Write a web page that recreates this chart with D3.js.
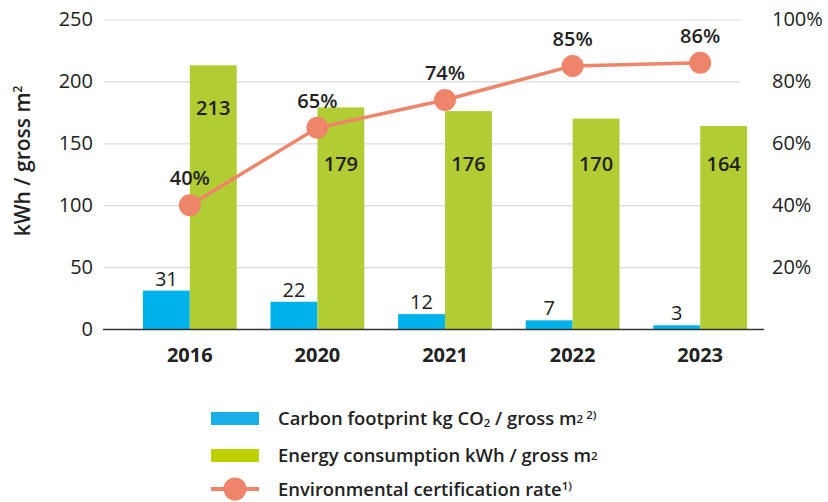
<!DOCTYPE html>
<html>
<head>
<meta charset="utf-8">
<script src="https://cdn.jsdelivr.net/npm/d3@7"></script>
<style>
  body { margin: 0; background: #fff; }
  svg { font-family: "Open Sans", "Noto Sans", sans-serif; }
</style>
</head>
<body>
<div id="chart"></div>
<script>
const years = ["2016", "2020", "2021", "2022", "2023"];
const carbon = [31, 22, 12, 7, 3];
const energy = [213, 179, 176, 170, 164];
const certRate = [40, 65, 74, 85, 86];
const leftTicks = [0, 50, 100, 150, 200, 250];
const rightTicks = [20, 40, 60, 80, 100];

const width = 828;
const height = 502;
const blue = "#00b2ea";
const green = "#b2cd33";
const salmon = "#ee856b";
const textColor = "#222";

const svg = d3.select("#chart")
    .append("svg")
    .attr("width", width)
    .attr("height", height);

const x0 = d3.scaleBand()
    .domain(years)
    .range([126, 764])
    .padding(0);

const x1 = d3.scaleBand()
    .domain(["carbon", "energy"])
    .range([0, x0.bandwidth()])
    .paddingInner(0)
    .paddingOuter(0.36);

const y = d3.scaleLinear()
    .domain([0, 250])
    .range([329, 19.5]);

const yPct = d3.scaleLinear()
    .domain([0, 100])
    .range([329, 19.5]);

// gridlines + left labels
svg.append("g")
    .attr("transform", "translate(104,0)")
    .call(d3.axisLeft(y).tickValues(leftTicks).tickSize(-636).tickPadding(11))
    .call(g => g.select(".domain").remove())
    .call(g => g.selectAll(".tick line").attr("stroke", "#d9d9d9").attr("stroke-width", 1.2))
    .call(g => g.selectAll(".tick text")
        .attr("fill", textColor)
        .attr("font-size", 20)
        .attr("font-family", "Open Sans"));

// right axis labels
svg.append("g")
    .attr("transform", "translate(772,0)")
    .call(d3.axisRight(yPct).tickValues(rightTicks).tickSize(0).tickPadding(0).tickFormat(d => d + "%"))
    .call(g => g.select(".domain").remove())
    .call(g => g.selectAll(".tick text")
        .attr("fill", textColor)
        .attr("font-size", 20)
        .attr("font-family", "Open Sans"));

// bars
const groups = svg.append("g")
    .selectAll("g")
    .data(years)
    .join("g")
    .attr("transform", d => `translate(${x0(d)},0)`);

groups.append("rect")
    .attr("x", x1("carbon"))
    .attr("width", x1.bandwidth())
    .attr("y", (d, i) => y(carbon[i]))
    .attr("height", (d, i) => y(0) - y(carbon[i]))
    .attr("fill", blue);

groups.append("rect")
    .attr("x", x1("energy"))
    .attr("width", x1.bandwidth())
    .attr("y", (d, i) => y(energy[i]))
    .attr("height", (d, i) => y(0) - y(energy[i]))
    .attr("fill", green);

// baseline
svg.append("line")
    .attr("x1", 103).attr("x2", 764)
    .attr("y1", y(0) + 0.5).attr("y2", y(0) + 0.5)
    .attr("stroke", "#333")
    .attr("stroke-width", 1.5);

// bar labels
groups.append("text")
    .attr("x", x1("carbon") + x1.bandwidth() / 2)
    .attr("y", (d, i) => y(carbon[i]) - 5)
    .attr("text-anchor", "middle")
    .attr("font-size", 20)
    .attr("fill", textColor)
    .text((d, i) => carbon[i]);

groups.append("text")
    .attr("x", x1("energy") + x1.bandwidth() / 2)
    .attr("y", (d, i) => i === 0 ? y(energy[i]) + 50 : y(133) + 7)
    .attr("text-anchor", "middle")
    .attr("font-size", 20)
    .attr("font-weight", 600)
    .attr("fill", textColor)
    .text((d, i) => energy[i]);

// line
const cx = d => x0(d) + x0.bandwidth() / 2;
const line = d3.line()
    .x(d => cx(d))
    .y((d, i) => yPct(certRate[i]));

svg.append("path")
    .datum(years)
    .attr("fill", "none")
    .attr("stroke", salmon)
    .attr("stroke-width", 3.5)
    .attr("d", line);

svg.append("g")
    .selectAll("circle")
    .data(years)
    .join("circle")
    .attr("cx", d => cx(d))
    .attr("cy", (d, i) => yPct(certRate[i]))
    .attr("r", 11)
    .attr("fill", salmon);

svg.append("g")
    .selectAll("text")
    .data(years)
    .join("text")
    .attr("x", d => cx(d))
    .attr("y", (d, i) => yPct(certRate[i]) - 20)
    .attr("text-anchor", "middle")
    .attr("font-size", 20)
    .attr("font-weight", 600)
    .attr("fill", textColor)
    .text((d, i) => certRate[i] + "%");

// x labels
svg.append("g")
    .selectAll("text")
    .data(years)
    .join("text")
    .attr("x", d => cx(d))
    .attr("y", 362)
    .attr("text-anchor", "middle")
    .attr("font-size", 20)
    .attr("font-weight", 700)
    .attr("fill", textColor)
    .text(d => d);

// y axis title
const yTitle = svg.append("text")
    .attr("transform", "translate(30,161) rotate(-90)")
    .attr("text-anchor", "middle")
    .attr("font-size", 21)
    .attr("font-weight", 600)
    .attr("fill", textColor);
yTitle.append("tspan").text("kWh / gross m");
yTitle.append("tspan").attr("font-size", 12).attr("dy", -8).text("2");

// legend
const legend = svg.append("g").attr("font-size", 18.4).attr("font-weight", 600).attr("fill", textColor);

legend.append("rect").attr("x", 211).attr("y", 412).attr("width", 48).attr("height", 13).attr("fill", "#1aaee8");
legend.append("rect").attr("x", 211).attr("y", 449).attr("width", 48).attr("height", 13).attr("fill", "#bfd000");
legend.append("line").attr("x1", 211).attr("x2", 259).attr("y1", 489).attr("y2", 489)
    .attr("stroke", salmon).attr("stroke-width", 4);
legend.append("circle").attr("cx", 235).attr("cy", 489).attr("r", 11.5).attr("fill", salmon);

const t1 = legend.append("text").attr("x", 278).attr("y", 425);
t1.append("tspan").text("Carbon footprint kg CO");
t1.append("tspan").attr("font-size", 11.5).attr("dy", 2).text("2");
t1.append("tspan").attr("dy", -2).text(" / gross m");
t1.append("tspan").attr("font-size", 11.5).attr("dy", -2).text("2");
t1.append("tspan").attr("font-size", 11.5).attr("dy", -4).text(" 2)");

const t2 = legend.append("text").attr("x", 278).attr("y", 462);
t2.append("tspan").text("Energy consumption kWh / gross m");
t2.append("tspan").attr("font-size", 11.5).attr("dy", -2).text("2");

const t3 = legend.append("text").attr("x", 278).attr("y", 496);
t3.append("tspan").text("Environmental certification rate");
t3.append("tspan").attr("font-size", 11.5).attr("dy", -6).text("1)");
</script>
</body>
</html>
